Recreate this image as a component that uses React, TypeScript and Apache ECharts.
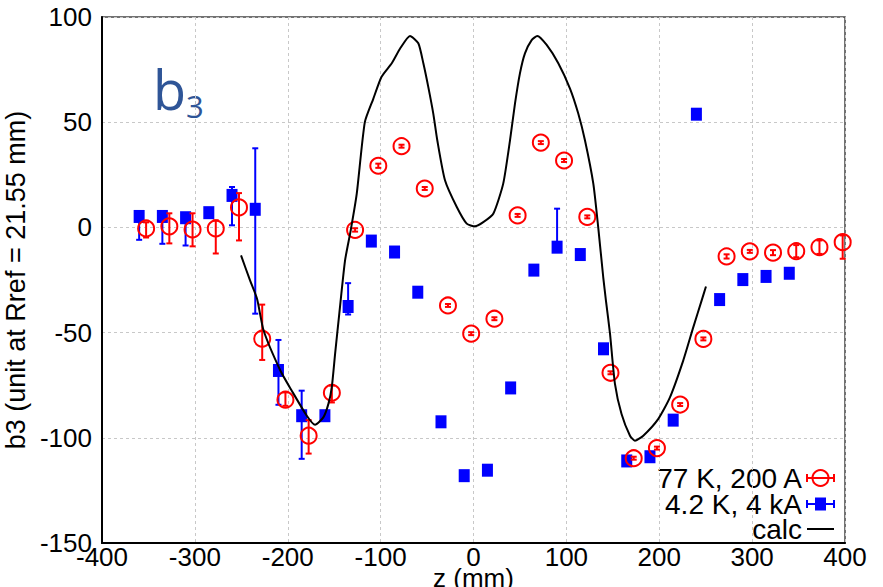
import React, { useEffect, useRef } from "react";
import * as echarts from "echarts";

// 77 K, 200 A  (red open circles)
const redX = [-352.5, -327.5, -302.5, -277.5, -252.5, -227.5, -202.5, -177.5, -152.5, -127.5, -102.5, -77.5, -52.5, -27.5, -2.5, 22.5, 47.5, 72.5, 97.5, 122.5, 147.5, 172.5, 197.5, 222.5, 247.5, 272.5, 297.5, 322.5, 347.5, 372.5, 397.5];
const redY = [-0.5, 0.5, -1, -0.5, 9.5, -52.9, -81.9, -99, -78.6, -1.2, 29.3, 38.6, 18.5, -37.1, -50.5, -43.4, 5.7, 40.3, 31.8, 5, -69.1, -109.7, -104.9, -84.2, -53, -13.8, -11.4, -12, -11.3, -9.4, -7];
const redLow = [-4.8, -7.6, -9, -12.4, -6.2, -63, -84.8, -107.5, -83.2, -2, 28.3, 37.9, 17.8, -37.8, -51.2, -44.1, 5, 39.6, 31.1, 4.3, -69.8, -110.4, -105.6, -84.9, -53.7, -14.8, -12.1, -13.2, -14.2, -12.6, -14.9];
const redHigh = [2.4, 6.7, 6.7, 3.3, 16.3, -36.7, -78.4, -91.6, -75.2, -0.4, 30.3, 39.3, 19.2, -36.4, -49.8, -42.7, 6.4, 41, 32.5, 5.7, -68.4, -109, -104.2, -83.5, -52.3, -12.8, -10.7, -10.8, -8.4, -6.2, -3.8];

// 4.2 K, 4 kA  (blue squares)
const blueX = [-360, -335, -310, -285, -260, -235, -210, -185, -160, -135, -110, -85, -60, -35, -10, 15, 40, 65, 90, 115, 140, 165, 190, 215, 240, 265, 290, 315, 340];
const blueY = [5.2, 5.2, 4.6, 7, 15.2, 8.6, -68, -89.5, -89.5, -37.6, -6.5, -11.7, -30.8, -92.4, -118, -115.4, -76.3, -20.3, -9.4, -12.9, -57.7, -111, -109, -91.6, 53.8, -34.3, -24.8, -23.3, -21.8];
const blueLow = [-5.9, -7.8, -8.6, 7, 1, -41, -84.3, -110, -89.5, -41.4, -6.5, -11.7, -30.8, -92.4, -118, -115.4, -76.3, -20.3, -9.4, -12.9, -57.7, -111, -109, -91.6, 53.8, -34.3, -24.8, -23.3, -21.8];
const blueHigh = [6, 6, 5.5, 7, 19.2, 37.6, -53.5, -77.6, -89.5, -26.5, -6.5, -11.7, -30.8, -92.4, -118, -115.4, -76.3, -20.3, 8.9, -12.9, -57.7, -111, -109, -91.6, 53.8, -34.3, -24.8, -23.3, -21.8];

// calc curve
const calcX = [-250.3, -240.6, -233, -226, -208, -195.7, -179.5, -170.6, -161.7, -156.3, -152.6, -149, -144.5, -138.3, -132.2, -125.7, -117, -108, -99, -88, -79, -68.4, -59.4, -54, -48.7, -43.3, -39, -30.7, -18, -7.3, 1.6, 10.5, 21.3, 32, 39.3, 44.7, 50, 55.4, 62.6, 68.7, 78.8, 91.3, 103.9, 112.8, 120, 129, 134.3, 139.7, 142.6, 147, 152.3, 159.4, 168.5, 173.8, 182.8, 199, 211.5, 225.8, 236.6, 245.6, 250.3];
const calcY = [-13.3, -25.2, -34, -49, -68, -77.6, -89.5, -93.8, -90.3, -84, -76, -60, -41, -15.7, -1.4, 16, 50, 61, 71.6, 78, 85, 91, 87.5, 78, 66.8, 54.1, 41.4, 22.4, 9.7, 1.8, 0.5, 2.5, 6.5, 20.8, 41.4, 58.9, 73.2, 82.7, 89, 91, 86.7, 78, 66, 54.1, 41.4, 20.8, 0, -23.7, -34.8, -50.6, -74.4, -88.7, -99, -101.4, -99, -91, -80.8, -63.3, -47.5, -34.8, -28.1];

const xTicks = { min: -400, max: 400, interval: 100 };
const yTicks = { min: -150, max: 100, interval: 50 };

const legendNames = ["77 K, 200 A", "4.2 K, 4 kA", "calc"];

const FONT = "Liberation Sans";

function errRender(color: string) {
  return (params: any, api: any) => {
    const x = api.value(0);
    const lo = api.value(1);
    const hi = api.value(2);
    if (lo === hi) return { type: "group", children: [] };
    const p1 = api.coord([x, lo]);
    const p2 = api.coord([x, hi]);
    const w = 3;
    const st = { stroke: color, lineWidth: 2 };
    return {
      type: "group",
      children: [
        { type: "line", shape: { x1: p1[0], y1: p1[1], x2: p2[0], y2: p2[1] }, style: st },
        { type: "line", shape: { x1: p1[0] - w, y1: p1[1], x2: p1[0] + w, y2: p1[1] }, style: st },
        { type: "line", shape: { x1: p2[0] - w, y1: p2[1], x2: p2[0] + w, y2: p2[1] }, style: st },
      ],
    };
  };
}

export default function App() {
  const ref = useRef<HTMLDivElement>(null);
  useEffect(() => {
    document.body.style.margin = "0";
    const chart = echarts.init(ref.current!, null, { renderer: "svg" });
    const red = "#ff0000";
    const blue = "#0000ff";
    const lx1 = 807, lx2 = 834, lxc = 820.5;
    const rows = [478, 504, 529];
    const cap = (x: number, y: number, c: string) => ({
      type: "line", shape: { x1: x, y1: y - 4, x2: x, y2: y + 4 }, style: { stroke: c, lineWidth: 2 },
    });
    chart.setOption({
      animation: false,
      grid: { left: 102, right: 38, top: 17, bottom: 44, outerBoundsMode: "none", containLabel: false, show: true, borderColor: "#444", borderWidth: 1.5, backgroundColor: "transparent" },
      xAxis: {
        type: "value", ...xTicks,
        name: "z (mm)", nameLocation: "middle", nameGap: 22, nameMoveOverlap: false,
        nameTextStyle: { fontFamily: FONT, fontSize: 26, color: "#000", verticalAlign: "top" },
        axisLine: { show: true, onZero: false, lineStyle: { color: "#000", width: 2 } },
        axisTick: { show: false },
        axisLabel: { fontFamily: FONT, fontSize: 26, color: "#000", margin: 1 },
        splitLine: { show: true, lineStyle: { color: "#c8c8c8", type: [3, 3], width: 1 } },
      },
      yAxis: {
        type: "value", ...yTicks,
        name: "b3 (unit at Rref = 21.55 mm)", nameLocation: "middle", nameGap: 62,
        nameTextStyle: { fontFamily: FONT, fontSize: 27, color: "#000" },
        axisLine: { show: true, onZero: false, lineStyle: { color: "#000", width: 2 } },
        axisTick: { show: false },
        axisLabel: { fontFamily: FONT, fontSize: 26, color: "#000", margin: 10 },
        splitLine: { show: true, lineStyle: { color: "#c8c8c8", type: [3, 3], width: 1 } },
      },
      series: [
        {
          type: "custom", name: legendNames[1] + " err", renderItem: errRender(blue),
          encode: { x: 0, y: [1, 2] }, z: 2,
          data: blueX.map((x, i) => [x, blueLow[i], blueHigh[i]]),
        },
        {
          type: "scatter", name: legendNames[1], symbol: "rect", symbolSize: [11, 13], z: 3,
          itemStyle: { color: blue, opacity: 1 },
          data: blueX.map((x, i) => [x, blueY[i]]),
        },
        {
          type: "custom", name: legendNames[0] + " err", renderItem: errRender(red),
          encode: { x: 0, y: [1, 2] }, z: 4,
          data: redX.map((x, i) => [x, redLow[i], redHigh[i]]),
        },
        {
          type: "scatter", name: legendNames[0], symbol: "circle", symbolSize: 16, z: 5,
          itemStyle: { color: "rgba(0,0,0,0)", borderColor: red, borderWidth: 2, opacity: 1 },
          data: redX.map((x, i) => [x, redY[i]]),
        },
        {
          type: "line", name: legendNames[2], showSymbol: false, smooth: 0.2, z: 6,
          lineStyle: { color: "#000", width: 2 },
          data: calcX.map((x, i) => [x, calcY[i]]),
        },
      ],
      graphic: [
        {
          type: "text", x: 153, y: 62,
          style: {
            text: "{b|b}{s|3}", fill: "#2F5597",
            rich: {
              b: { fontFamily: "Open Sans", fontSize: 54, lineHeight: 54, verticalAlign: "top", fill: "#2F5597" },
              s: { fontFamily: "Open Sans", fontSize: 31, lineHeight: 59, verticalAlign: "bottom", fill: "#2F5597" },
            },
          },
        },
        ...legendNames.map((n, i) => ({
          type: "text", x: 802, y: rows[i],
          style: { text: n, fontFamily: FONT, fontSize: 28, lineHeight: 24, fill: "#000", align: "right", verticalAlign: "middle" },
        })),
        { type: "line", shape: { x1: lx1, y1: rows[0], x2: lx2, y2: rows[0] }, style: { stroke: red, lineWidth: 2 } },
        cap(lx1, rows[0], red), cap(lx2, rows[0], red),
        { type: "circle", shape: { cx: lxc, cy: rows[0], r: 8 }, style: { fill: "none", stroke: red, lineWidth: 2 } },
        { type: "line", shape: { x1: lx1, y1: rows[1], x2: lx2, y2: rows[1] }, style: { stroke: blue, lineWidth: 2 } },
        cap(lx1, rows[1], blue), cap(lx2, rows[1], blue),
        { type: "rect", shape: { x: lxc - 5.5, y: rows[1] - 6.5, width: 11, height: 13 }, style: { fill: blue } },
        { type: "line", shape: { x1: lx1, y1: rows[2], x2: lx2, y2: rows[2] }, style: { stroke: "#000", lineWidth: 2 } },
      ],
    });
    return () => chart.dispose();
  }, []);
  return <div ref={ref} style={{ width: 883, height: 587 }} />;
}
